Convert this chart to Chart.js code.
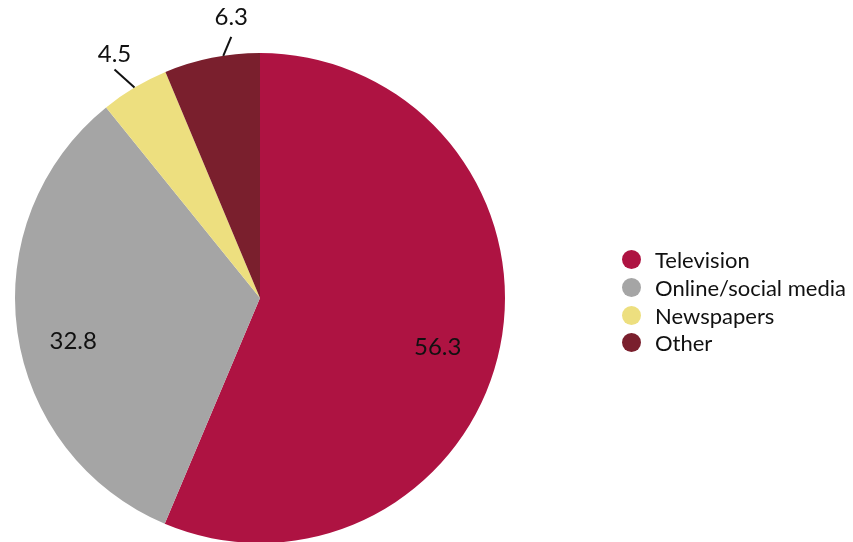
<!DOCTYPE html>
<html>
<head>
<meta charset="utf-8">
<script src="https://cdn.jsdelivr.net/npm/chart.js@4.4.0/dist/chart.umd.min.js"></script>
<style>
  html, body { margin: 0; padding: 0; width: 853px; height: 542px; overflow: hidden; background: #fff; }
  #wrap { position: relative; width: 853px; height: 600px; }
  #legend { position: absolute; left: 622px; top: 244px; font-family: Lato, "Open Sans", sans-serif; font-size: 22px; color: #111; }
  .item { display: flex; align-items: center; height: 27.5px; }
  .item:first-child { height: 30px; }
  .dot { width: 19px; height: 19px; border-radius: 50%; margin-right: 14px; flex: none; }
</style>
</head>
<body>
<div id="wrap">
  <canvas id="c" width="853" height="600"></canvas>
  <div id="legend"></div>
</div>
<script>
const categories = ["Television", "Online/social media", "Newspapers", "Other"];
const values = [56.3, 32.8, 4.5, 6.3];
const labelTexts = ["56.3", "32.8", "4.5", "6.3"];
const colors = ["#AE1342", "#A5A5A5", "#EDDF7F", "#7A1F2D"];

// label placement style: inside (radius fraction) or outside with leader line
const labelStyle = [
  { inside: true, rf: 0.74, dy: 13 },
  { inside: true, rf: 0.77, dy: 17 },
  { inside: false, frac: 0.5, lx: -20, ly: -18, tdy: -15 },
  { inside: false, frac: 0.62, lx: 8, ly: -19, tdy: -20 }
];

const labelPlugin = {
  id: 'sliceLabels',
  afterDatasetsDraw(chart) {
    const ctx = chart.ctx;
    const meta = chart.getDatasetMeta(0);
    ctx.save();
    ctx.font = '24px Lato, "Open Sans", sans-serif';
    ctx.fillStyle = '#111';
    ctx.strokeStyle = '#111';
    ctx.lineWidth = 2;
    ctx.textAlign = 'center';
    ctx.textBaseline = 'middle';
    meta.data.forEach((arc, i) => {
      const p = arc.getProps(['x', 'y', 'startAngle', 'endAngle', 'outerRadius']);
      const s = labelStyle[i];
      if (s.inside) {
        const a = (p.startAngle + p.endAngle) / 2;
        const r = p.outerRadius * s.rf;
        ctx.fillText(labelTexts[i], p.x + Math.cos(a) * r, p.y + Math.sin(a) * r + s.dy);
      } else {
        const a = p.startAngle + (p.endAngle - p.startAngle) * s.frac;
        const ex = p.x + Math.cos(a) * p.outerRadius;
        const ey = p.y + Math.sin(a) * p.outerRadius;
        const ox = ex + s.lx, oy = ey + s.ly;
        ctx.beginPath();
        ctx.moveTo(ex, ey);
        ctx.lineTo(ox, oy);
        ctx.stroke();
        ctx.fillText(labelTexts[i], ox, oy + s.tdy);
      }
    });
    ctx.restore();
  }
};

new Chart(document.getElementById('c'), {
  type: 'pie',
  data: {
    labels: categories,
    datasets: [{ data: values, backgroundColor: colors, borderWidth: 0 }]
  },
  options: {
    responsive: false,
    animation: false,
    layout: { padding: { left: 15, right: 348, top: 53, bottom: 57 } },
    plugins: { legend: { display: false }, tooltip: { enabled: false } }
  },
  plugins: [labelPlugin]
});

const lg = document.getElementById('legend');
categories.forEach((c, i) => {
  const d = document.createElement('div');
  d.className = 'item';
  d.innerHTML = '<span class="dot" style="background:' + colors[i] + '"></span><span>' + c + '</span>';
  lg.appendChild(d);
});
</script>
</body>
</html>
